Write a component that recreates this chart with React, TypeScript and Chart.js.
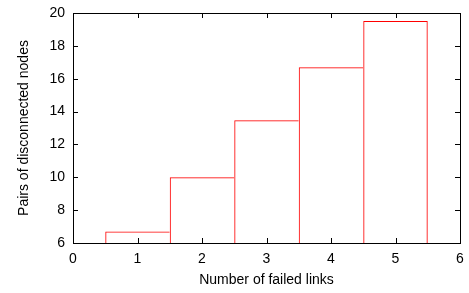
import React, { useEffect, useRef } from "react";
import { Chart, registerables } from "chart.js";

Chart.register(...registerables);

const failedLinks = [1, 2, 3, 4, 5];
const disconnectedPairs = [6.7, 10, 13.47, 16.7, 19.52];
const xTicks = [0, 1, 2, 3, 4, 5, 6];
const yTicks = [6, 8, 10, 12, 14, 16, 18, 20];

const FONT = "'Liberation Sans', Arial, Helvetica, sans-serif";

const frameTicks = {
  id: "frameTicks",
  afterDatasetsDraw(chart: any) {
    const { ctx, chartArea: a, scales } = chart;
    const len = 5;
    ctx.save();
    ctx.strokeStyle = "#000";
    ctx.lineWidth = 1;
    ctx.beginPath();
    for (const v of xTicks) {
      const px = Math.round(scales.x.getPixelForValue(v)) + 0.5;
      ctx.moveTo(px, a.bottom);
      ctx.lineTo(px, a.bottom - len);
      ctx.moveTo(px, a.top);
      ctx.lineTo(px, a.top + len);
    }
    for (const v of yTicks) {
      const py = Math.round(scales.y.getPixelForValue(v)) + 0.5;
      ctx.moveTo(a.left, py);
      ctx.lineTo(a.left + len, py);
      ctx.moveTo(a.right, py);
      ctx.lineTo(a.right - len, py);
    }
    ctx.stroke();
    ctx.strokeRect(
      Math.round(a.left) + 0.5,
      Math.round(a.top) + 0.5,
      Math.round(a.right - a.left),
      Math.round(a.bottom - a.top)
    );
    ctx.restore();
  },
};

export default function App() {
  const ref = useRef<HTMLCanvasElement>(null);
  useEffect(() => {
    if (!ref.current) return;
    const last = failedLinks.length - 1;
    const chart = new Chart(ref.current, {
      type: "bar",
      data: {
        datasets: [
          {
            data: failedLinks.map((x, i) => ({ x, y: disconnectedPairs[i] })),
            backgroundColor: "rgba(0,0,0,0)",
            borderColor: "#ff0000",
            borderWidth: (c: any) => ({
              left: 1,
              top: 1,
              right: c.dataIndex === last ? 1 : 0,
              bottom: 0,
            }),
            borderSkipped: false,
            barPercentage: 1,
            categoryPercentage: 1,
            inflateAmount: 0,
          } as any,
        ],
      },
      options: {
        animation: false,
        responsive: false,
        maintainAspectRatio: false,
        layout: { padding: { top: 13, right: 9, left: 0, bottom: 0 } },
        plugins: { legend: { display: false }, tooltip: { enabled: false } },
        scales: {
          x: {
            type: "linear",
            min: 0,
            max: 6,
            offset: false,
            afterFit: (s: any) => {
              s.height = 50;
              s.paddingLeft = 0;
              s.paddingRight = 0;
            },
            afterBuildTicks: (s: any) => {
              s.ticks = xTicks.map((v) => ({ value: v }));
            },
            grid: { display: false, drawTicks: false, offset: false },
            border: { display: false },
            ticks: {
              color: "#000",
              font: { family: FONT, size: 14 },
              padding: 8,
              maxRotation: 0,
            },
            title: {
              display: true,
              text: "Number of failed links",
              color: "#000",
              font: { family: FONT, size: 14 },
              padding: { top: 0, bottom: 4 },
            },
          },
          y: {
            type: "linear",
            min: 6,
            max: 20,
            afterFit: (s: any) => {
              s.width = 73;
              s.paddingTop = 0;
              s.paddingBottom = 0;
            },
            afterBuildTicks: (s: any) => {
              s.ticks = yTicks.map((v) => ({ value: v }));
            },
            grid: { display: false, drawTicks: false },
            border: { display: false },
            ticks: {
              color: "#000",
              font: { family: FONT, size: 14 },
              padding: 8,
            },
            title: {
              display: true,
              text: "Pairs of disconnected nodes",
              color: "#000",
              font: { family: FONT, size: 14 },
              padding: { top: 16, bottom: 0 },
            },
          },
        },
      },
      plugins: [frameTicks],
    });
    return () => chart.destroy();
  }, []);
  return (
    <div style={{ position: "absolute", left: 0, top: 0, width: 469, height: 293, background: "#fff" }}>
      <canvas ref={ref} width={469} height={293} style={{ width: 469, height: 293, display: "block" }} />
    </div>
  );
}
